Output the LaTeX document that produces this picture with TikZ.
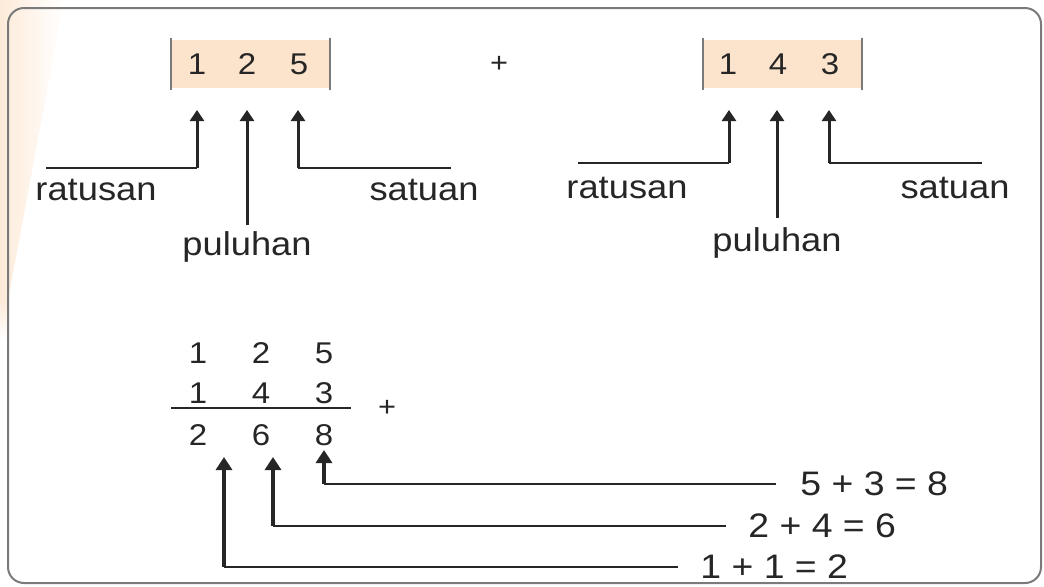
\documentclass[tikz,border=0pt]{standalone}
\usepackage{fontspec}
\setmainfont{Liberation Sans}[FakeStretch=1.1]
\usetikzlibrary{arrows.meta}

\definecolor{peach}{HTML}{FCE3CB}
\definecolor{strip}{HTML}{FDEBD9}
\definecolor{edge}{HTML}{7A7A7A}
\definecolor{ink}{HTML}{262626}

\begin{document}
\begin{tikzpicture}[x=0.5pt, y=-0.5pt]
		\useasboundingbox (0,0) rectangle (1044,586);
		\shade[left color=strip, right color=white] (0,0) -- (64,0) -- (8,300) -- (0,300) -- cycle;
		\shade[top color=strip, bottom color=white] (0,300) rectangle (8,340);
		\draw[edge, line width=1pt, rounded corners=8pt] (8,8) rectangle (1041,583);

		\tikzstyle{every node} = [inner sep=0pt, text=ink]
		\tikzstyle{numbox} = [fill=peach, minimum width=79.5pt, minimum height=24pt]
		\tikzstyle{digit} = [font=\fontsize{15}{17}\selectfont]
		\tikzstyle{word} = [font=\fontsize{16.5}{18}\selectfont]
		\tikzstyle{sign} = [font=\fontsize{14}{16}\selectfont]
		\tikzstyle{eq} = [font=\fontsize{17}{19}\selectfont, anchor=west]
		\tikzstyle{bar} = [draw=edge, line width=1pt]
		\tikzstyle{hline} = [draw=ink, line width=0.9pt]
		\tikzstyle{uparrow} = [draw=ink, line width=1.5pt, -{Triangle[width=7pt,length=5.5pt]}]
		\tikzstyle{bigarrow} = [draw=ink, line width=2pt, -{Triangle[width=8pt,length=6.5pt]}]

		% first number
		\node[numbox] (boxA) at (250.5,64) {};
		\draw[bar] ([yshift=1pt]boxA.north west) -- ([yshift=-1pt]boxA.south west);
		\draw[bar] ([yshift=1pt]boxA.north east) -- ([yshift=-1pt]boxA.south east);
		\node[digit] (a1) at (197,64) {1};
		\node[digit] (a2) at (247,64) {2};
		\node[digit] (a3) at (299,64) {5};

		\node[sign] (plusA) at (499,64) {+};

		% second number
		\node[numbox] (boxB) at (782.5,64) {};
		\draw[bar] ([yshift=1pt]boxB.north west) -- ([yshift=-1pt]boxB.south west);
		\draw[bar] ([yshift=1pt]boxB.north east) -- ([yshift=-1pt]boxB.south east);
		\node[digit] (b1) at (728,64) {1};
		\node[digit] (b2) at (778,64) {4};
		\node[digit] (b3) at (830,64) {3};

		% place names, first number
		\node[word] (ratA) at (96,190) {ratusan};
		\node[word] (satA) at (424,190) {satuan};
		\node[word] (pulA) at (247,247) {puluhan};
		\coordinate (ta1) at (197,110);
		\coordinate (ta2) at (247,110);
		\coordinate (ta3) at (298,110);
		\coordinate (la1) at (46,168);
		\coordinate (ka1) at (197,168);
		\coordinate (ka2) at (247,225);
		\coordinate (ka3) at (298,168);
		\coordinate (la3) at (451,168);
		\draw[hline] (la1) -- (ka1);
		\draw[uparrow] (ka1) -- (ta1);
		\draw[uparrow] (ka2) -- (ta2);
		\draw[hline] (la3) -- (ka3);
		\draw[uparrow] (ka3) -- (ta3);

		% place names, second number
		\node[word] (ratB) at (627,188) {ratusan};
		\node[word] (satB) at (955,188) {satuan};
		\node[word] (pulB) at (777,243) {puluhan};
		\coordinate (tb1) at (729,110);
		\coordinate (tb2) at (777,110);
		\coordinate (tb3) at (829,110);
		\coordinate (lb1) at (578,163);
		\coordinate (kb1) at (729,163);
		\coordinate (kb2) at (777,218);
		\coordinate (kb3) at (829,163);
		\coordinate (lb3) at (982,163);
		\draw[hline] (lb1) -- (kb1);
		\draw[uparrow] (kb1) -- (tb1);
		\draw[uparrow] (kb2) -- (tb2);
		\draw[hline] (lb3) -- (kb3);
		\draw[uparrow] (kb3) -- (tb3);

		% column sum
		\node[digit] (c11) at (198,353) {1};
		\node[digit] (c12) at (261,353) {2};
		\node[digit] (c13) at (324,353) {5};
		\node[digit] (c21) at (198,393) {1};
		\node[digit] (c22) at (261,393) {4};
		\node[digit] (c23) at (324,393) {3};
		\node[digit] (c31) at (198,435) {2};
		\node[digit] (c32) at (261,435) {6};
		\node[digit] (c33) at (324,435) {8};
		\coordinate (rl) at (171,408);
		\coordinate (rr) at (351,408);
		\draw[hline] (rl) -- (rr);
		\node[sign] (plusB) at (387,408) {+};

		\node[eq] (e3) at (800,484) {5 + 3 = 8};
		\node[eq] (e2) at (748,526) {2 + 4 = 6};
		\node[eq] (e1) at (700,567) {1 + 1 = 2};
		\coordinate (s1) at (224,457);
		\coordinate (s2) at (273,457);
		\coordinate (s3) at (324,450);
		\coordinate (k1) at (224,567);
		\coordinate (k2) at (273,526);
		\coordinate (k3) at (324,484);
		\draw[hline] ([xshift=-12pt]e3.west) -- (k3);
		\draw[hline] ([xshift=-11pt]e2.west) -- (k2);
		\draw[hline] ([xshift=-11pt]e1.west) -- (k1);
		\draw[bigarrow] (k3) -- (s3);
		\draw[bigarrow] (k2) -- (s2);
		\draw[bigarrow] (k1) -- (s1);
\end{tikzpicture}
\end{document}
